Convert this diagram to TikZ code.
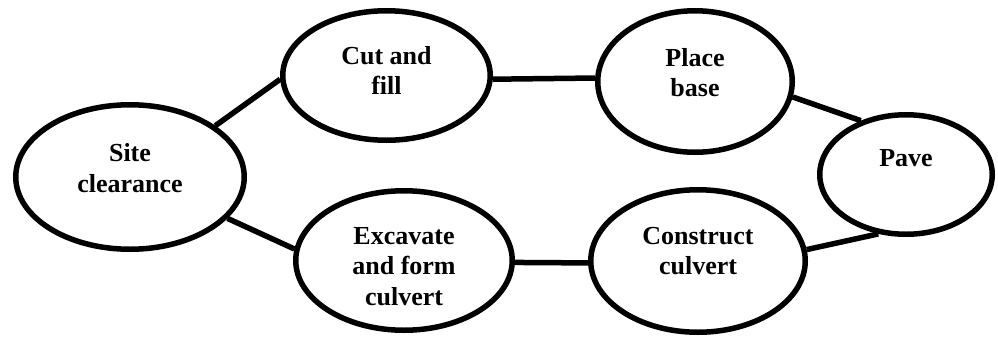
\documentclass[tikz,border=0pt]{standalone}
\usepackage{fontspec}
\setmainfont{Liberation Serif}
\usetikzlibrary{shapes.geometric}
\tikzset{
  stage/.style={ellipse,draw=black,line width=5.5pt,inner sep=0pt},
  stagetext/.style={font=\fontsize{26}{30.5}\selectfont\bfseries,align=center,inner sep=0pt},
  link/.style={draw=black,line width=5.5pt}}
\newcommand{\stage}[7]{%
  \node[stage,minimum width=#4pt,minimum height=#5pt] (#1) at (#2,#3) {};
  \node[stagetext] (#1-txt) at ([yshift=#6pt]#1.center) {#7};}

\begin{document}
\begin{tikzpicture}[x=1pt,y=-1pt]
  \useasboundingbox (0,0) rectangle (998,338);
  \stage{site}{130}{177}{228.5}{144.5}{9}{Site\\clearance}
  \stage{cut}{386.5}{75.5}{207.5}{129.5}{5}{Cut and\\fill}
  \stage{place}{695}{81.5}{194.5}{141.5}{9}{Place\\base}
  \stage{pave}{906}{174.5}{172.5}{119.5}{16}{Pave}
  \stage{dig}{404}{260.5}{216.5}{139.5}{-6}{Excavate\\and form\\culvert}
  \stage{build}{698}{261}{214.5}{142.5}{10}{Construct\\culvert}
  % Links
  \draw[link] (site.31) -- (cut.182);
  \draw[link] (site.-23) -- (dig.174.5);
  \draw[link] (cut.-2) -- (place.178);
  \draw[link] (dig.-1.3) -- (build.181);
  \draw[link] (place.-9.7) -- (pave.130);
  \draw[link] (build.6) -- (pave.245);
\end{tikzpicture}
\end{document}
